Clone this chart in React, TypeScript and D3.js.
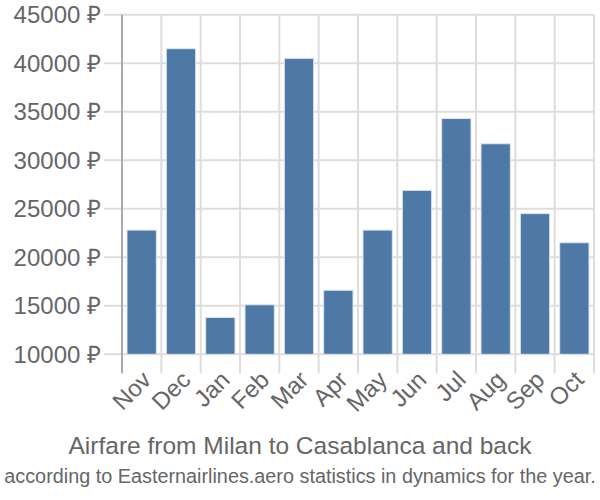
import React, { useRef, useEffect } from "react";
import * as d3 from "d3";

const months = ["Nov", "Dec", "Jan", "Feb", "Mar", "Apr", "May", "Jun", "Jul", "Aug", "Sep", "Oct"];
const prices = [22800, 41500, 13800, 15100, 40500, 16600, 22800, 26900, 34300, 31700, 24500, 21500];
const yTicks = [10000, 15000, 20000, 25000, 30000, 35000, 40000, 45000];
const title = "Airfare from Milan to Casablanca and back";
const subtitle = "according to Easternairlines.aero statistics in dynamics for the year.";

const W = 600;
const H = 500;
const left = 122;
const right = 594;
const top = 14.7;
const bottom = 354.3;

const App = () => {
  const svgRef = useRef<SVGSVGElement>(null);

  useEffect(() => {
    const svg = d3.select(svgRef.current);
    svg.selectAll("*").remove();

    const x = d3.scaleBand<string>().domain(months).range([left, right]).paddingInner(0).paddingOuter(0);
    const y = d3.scaleLinear().domain([10000, 45000]).range([bottom, top]);
    const font = "'Liberation Sans', Arial, sans-serif";

    // horizontal grid + y labels
    const yg = svg.append("g");
    yg.selectAll("line")
      .data(yTicks)
      .join("line")
      .attr("x1", left - 18)
      .attr("x2", right)
      .attr("y1", (d) => y(d))
      .attr("y2", (d) => y(d))
      .attr("stroke", "#ddd")
      .attr("stroke-width", 2);
    yg.selectAll("text")
      .data(yTicks)
      .join("text")
      .attr("x", left - 21)
      .attr("y", (d) => y(d))
      .attr("dy", "0.35em")
      .attr("text-anchor", "end")
      .attr("font-family", font)
      .attr("font-size", 24)
      .attr("fill", "#666")
      .text((d) => `${d} ₽`);

    // vertical grid lines at band edges, with ticks below the axis
    const edges = months.map((m) => x(m) as number).concat([right]);
    svg.append("g")
      .selectAll("line")
      .data(edges)
      .join("line")
      .attr("x1", (d) => d)
      .attr("x2", (d) => d)
      .attr("y1", top)
      .attr("y2", bottom + 19)
      .attr("stroke", "#ddd")
      .attr("stroke-width", 2);

    // bars
    svg.append("g")
      .selectAll("rect")
      .data(prices)
      .join("rect")
      .attr("x", (d, i) => (x(months[i]) as number) + 5)
      .attr("width", x.bandwidth() - 10)
      .attr("y", (d) => y(d))
      .attr("height", (d) => bottom - y(d))
      .attr("fill", "#4e79a7")
      .attr("stroke", "#dde6f0")
      .attr("stroke-width", 1);

    // left axis line
    svg.append("line")
      .attr("x1", left)
      .attr("x2", left)
      .attr("y1", top)
      .attr("y2", bottom + 19)
      .attr("stroke", "#aaa")
      .attr("stroke-width", 2);

    // x labels
    svg.append("g")
      .selectAll("text")
      .data(months)
      .join("text")
      .attr("transform", (d) => `translate(${(x(d) as number) + x.bandwidth() / 2 + 5},${bottom + 21}) rotate(-45)`)
      .attr("text-anchor", "end")
      .attr("dy", "0.35em")
      .attr("font-family", font)
      .attr("font-size", 24)
      .attr("fill", "#666")
      .text((d) => d);

    svg.append("text")
      .attr("x", W / 2)
      .attr("y", 454)
      .attr("text-anchor", "middle")
      .attr("font-family", font)
      .attr("font-size", 24.5)
      .attr("fill", "#666")
      .text(title);

    // subtitle is condensed in the original: squeeze it horizontally to fit
    const sub = svg.append("text")
      .attr("x", 0)
      .attr("y", 0)
      .attr("text-anchor", "middle")
      .attr("font-family", font)
      .attr("font-size", 21)
      .attr("fill", "#666")
      .text(subtitle);
    const len = (sub.node() as SVGTextElement).getComputedTextLength() || 594;
    sub.attr("transform", `translate(${W / 2},483) scale(${Math.min(1, 592 / len)},1)`);
  }, []);

  return (
    <svg
      ref={svgRef}
      width={W}
      height={H}
      style={{ position: "absolute", left: 0, top: 0 }}
    ></svg>
  );
};

export default App;
